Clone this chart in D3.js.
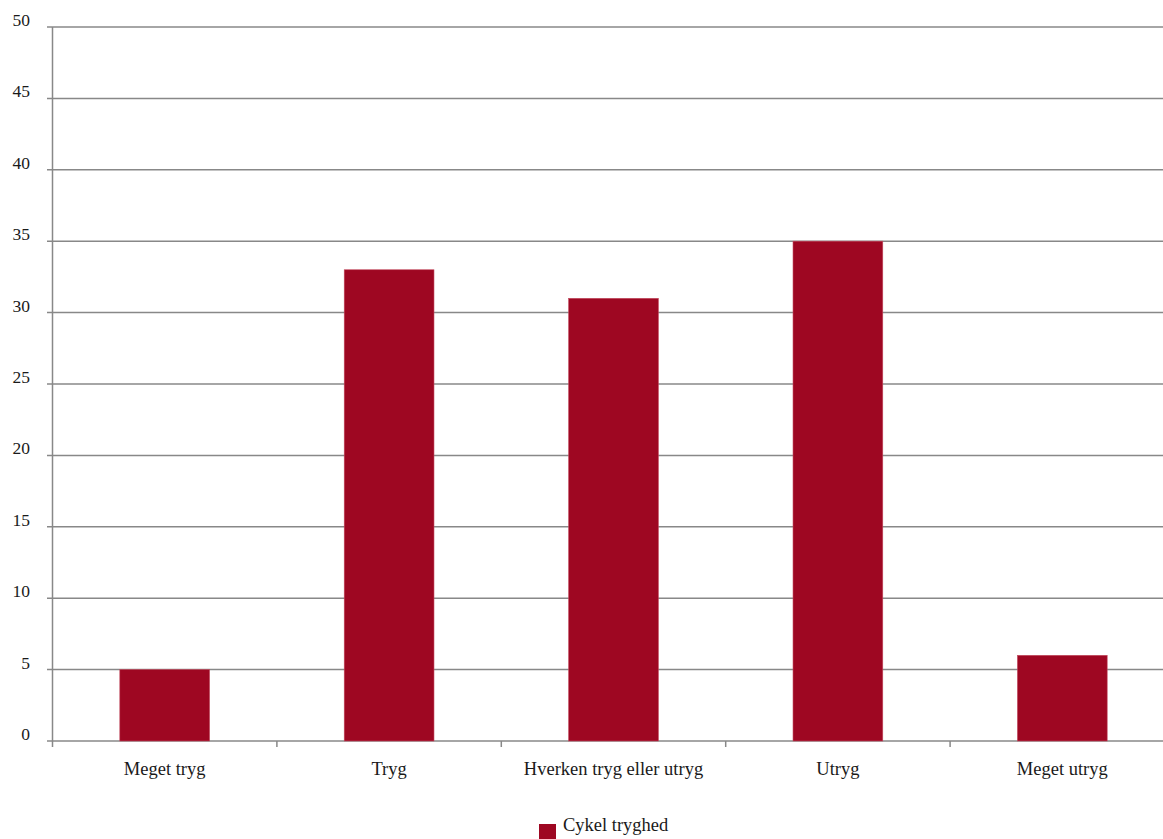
<!DOCTYPE html>
<html><head><meta charset="utf-8">
<script src="https://cdn.jsdelivr.net/npm/d3@7"></script>
<style>body{margin:0;background:#fff}svg{display:block}text{font-family:"Liberation Serif","Times New Roman",serif;fill:#1a1a1a}</style>
</head><body>
<script>
const categories = ["Meget tryg","Tryg","Hverken tryg eller utryg","Utryg","Meget utryg"];
const values = [5,33,31,35,6];
const yTicks = [0,5,10,15,20,25,30,35,40,45,50];
const seriesName = "Cykel tryghed";

const W=1163,H=839;
const svg=d3.select("body").append("svg").attr("width",W).attr("height",H);
const x0=52.5, x1=1174.5, yTop=27, yBot=741;
const x=d3.scaleBand().domain(categories).range([x0,x1]).paddingInner(0.6).paddingOuter(0.3);
const y=d3.scaleLinear().domain([0,50]).range([yBot,yTop]);
const grid="#888888";

svg.append("g").selectAll("line").data(yTicks).join("line")
  .attr("x1",x0-5.5).attr("x2",W).attr("y1",d=>y(d)).attr("y2",d=>y(d))
  .attr("stroke",grid).attr("stroke-width",1.5);
svg.append("g").selectAll("text").data(yTicks).join("text")
  .attr("x",30).attr("y",d=>y(d)-1).attr("text-anchor","end")
  .attr("font-size",17.5).text(d=>d);
svg.append("g").selectAll("rect").data(values).join("rect")
  .attr("x",(d,i)=>x(categories[i])).attr("width",x.bandwidth())
  .attr("y",d=>y(d)).attr("height",d=>y(0)-y(d))
  .attr("fill","#9e0722").attr("stroke","#c24a5e").attr("stroke-width",0.6);
svg.append("line").attr("x1",x0).attr("x2",x0).attr("y1",yTop).attr("y2",yBot+6)
  .attr("stroke",grid).attr("stroke-width",1.5);
const step=x.step();
const bounds=d3.range(1,categories.length).map(i=>x0+i*step);
svg.append("g").selectAll("line").data(bounds).join("line")
  .attr("x1",d=>d).attr("x2",d=>d).attr("y1",yBot).attr("y2",yBot+6)
  .attr("stroke",grid).attr("stroke-width",1.5);
svg.append("g").selectAll("text").data(categories).join("text")
  .attr("x",d=>x(d)+x.bandwidth()/2).attr("y",775).attr("text-anchor","middle")
  .attr("font-size",18.5).text(d=>d);
svg.append("rect").attr("x",539).attr("y",824).attr("width",17).attr("height",17).attr("fill","#9e0722");
svg.append("text").attr("x",563).attr("y",831).attr("font-size",18.5).text(seriesName);
</script>
</body></html>
